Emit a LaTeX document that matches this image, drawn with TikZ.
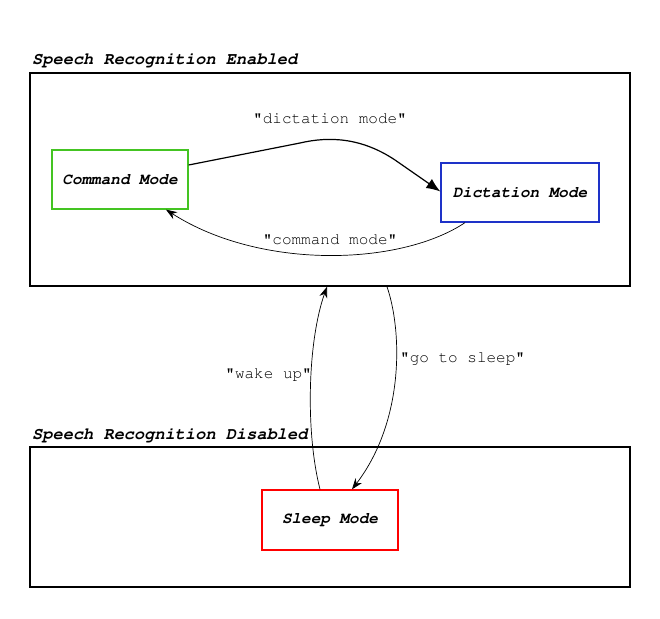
\documentclass[tikz,border=0pt]{standalone}
\usepackage[T1]{fontenc}
\usepackage{courier}
\usepackage{tikz}
\usetikzlibrary{arrows.meta, calc}

\definecolor{cmdgreen}{RGB}{68,196,34}
\definecolor{dictblue}{RGB}{30,50,200}
\definecolor{sleepred}{RGB}{255,0,0}

\begin{document}
\begin{tikzpicture}[x=1pt, y=-1pt,
    region/.style={draw=black, line width=1.5pt, inner sep=0pt},
    mode/.style={draw, line width=1.3pt, minimum height=59pt, inner sep=0pt, font=\fontsize{16}{18}\ttfamily\bfseries\itshape},
    title/.style={anchor=base west, inner sep=0pt, font=\fontsize{17}{20}\ttfamily\bfseries\itshape},
    trans/.style={inner sep=0pt, font=\fontsize{16}{18}\ttfamily},
    tip/.style={-{Stealth[length=11pt, width=8pt, inset=3.5pt]}, line width=0.7pt}]
    \useasboundingbox (0,0) rectangle (660,618);

    % Regioes
    \node[region, minimum width=600pt, minimum height=213pt] (enabled) at (330,179.5) {};
    \node[region, minimum width=600pt, minimum height=140pt] (disabled) at (330,517) {};
    \node[title] (enabledtitle) at (32,64) {Speech Recognition Enabled};
    \node[title] (disabledtitle) at (32,439) {Speech Recognition Disabled};

    % Modos
    \node[mode, draw=cmdgreen, minimum width=136pt] (command) at (120,179.5) {Command Mode};
    \node[mode, draw=dictblue, minimum width=158pt] (dictation) at (520,192.5) {Dictation Mode};
    \node[mode, draw=sleepred, minimum width=136pt, minimum height=60pt] (sleep) at (330,520) {Sleep Mode};

    % Transicoes
    \draw[-{Latex[length=14pt, width=11pt]}, line width=1.2pt] ([yshift=14.5pt]command.east) -- (300,143) .. controls (330,136) and (362,138) .. (395,160) -- ([yshift=1pt]dictation.west);
    \node[trans] (dictlabel) at (330,119) {"dictation mode"};

    \draw[tip] ([xshift=-55pt]dictation.south) .. controls (400,266) and (260,270) .. ([xshift=46pt]command.south);
    \node[trans] (cmdlabel) at (330,240) {"command mode"};

    \draw[tip] ([xshift=57pt]enabled.south) .. controls (402,330) and (405,420) .. ([xshift=22pt]sleep.north);
    \node[trans, anchor=west] (sleeplabel) at (400,359) {"go to sleep"};

    \draw[tip] ([xshift=-10pt]sleep.north) .. controls (305,430) and (308,340) .. ([xshift=-3pt]enabled.south);
    \node[trans, anchor=east] (wakelabel) at (312,375) {"wake up"};
\end{tikzpicture}
\end{document}
